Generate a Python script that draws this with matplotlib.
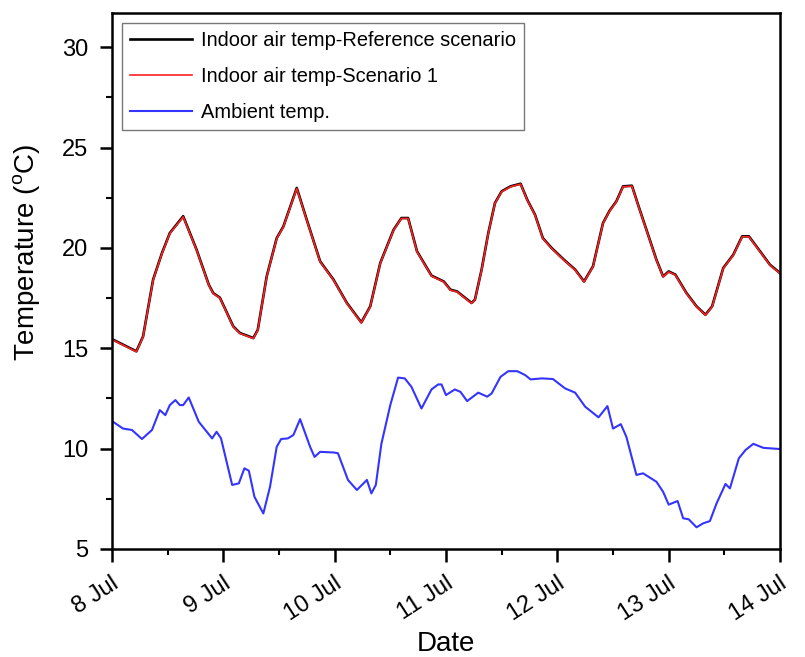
import pandas as pd
import matplotlib
matplotlib.use('Agg')
import matplotlib.pyplot as plt
import matplotlib.dates as mdates
from matplotlib.ticker import MultipleLocator
from matplotlib.transforms import ScaledTranslation

plt.rcParams['font.family'] = ['Liberation Sans', 'DejaVu Sans']
plt.rcParams['mathtext.fontset'] = 'custom'
plt.rcParams['mathtext.rm'] = 'Liberation Sans'
plt.rcParams['mathtext.it'] = 'Liberation Sans'

# time in days after 8 Jul 00:00, temperatures in degC
indoor_days = [0.01, 0.22, 0.28, 0.37, 0.45, 0.52, 0.64, 0.76, 0.87, 0.91, 0.97,
               1.09, 1.15, 1.27, 1.31, 1.39, 1.48, 1.54, 1.66, 1.75, 1.87, 1.99,
               2.11, 2.24, 2.32, 2.41, 2.53, 2.60, 2.66, 2.74, 2.87, 2.98, 3.04,
               3.10, 3.23, 3.26, 3.32, 3.38, 3.44, 3.50, 3.58, 3.67, 3.73, 3.80,
               3.87, 3.95, 4.06, 4.16, 4.24, 4.32, 4.41, 4.47, 4.53, 4.59, 4.67,
               4.73, 4.80, 4.89, 4.95, 5.00, 5.06, 5.16, 5.25, 5.33, 5.39, 5.49,
               5.58, 5.66, 5.72, 5.81, 5.91, 6.00]
indoor_s1 = [15.41, 14.83, 15.57, 18.4, 19.73, 20.72, 21.55, 19.9, 18.15, 17.73, 17.5,
             16.07, 15.74, 15.49, 15.9, 18.56, 20.47, 21.05, 22.96, 21.38, 19.31, 18.4,
             17.24, 16.27, 17.07, 19.23, 20.89, 21.47, 21.47, 19.81, 18.6, 18.31, 17.9,
             17.81, 17.24, 17.40, 18.9, 20.72, 22.22, 22.80, 23.05, 23.18, 22.38, 21.63,
             20.47, 19.97, 19.39, 18.9, 18.31, 19.06, 21.22, 21.84, 22.30, 23.05, 23.08,
             22.05, 20.89, 19.39, 18.56, 18.81, 18.65, 17.73, 17.07, 16.65, 17.07, 18.98,
             19.64, 20.56, 20.56, 19.89, 19.14, 18.73]
indoor_ref = [15.43, 14.85, 15.59, 18.42, 19.75, 20.74, 21.58, 19.92, 18.17, 17.75, 17.52,
              16.09, 15.76, 15.51, 15.92, 18.58, 20.49, 21.07, 22.99, 21.40, 19.33, 18.42,
              17.26, 16.29, 17.09, 19.25, 20.91, 21.49, 21.49, 19.83, 18.62, 18.33, 17.92,
              17.83, 17.26, 17.42, 18.92, 20.74, 22.24, 22.82, 23.07, 23.20, 22.40, 21.65,
              20.49, 19.99, 19.41, 18.92, 18.33, 19.08, 21.24, 21.86, 22.32, 23.07, 23.10,
              22.07, 20.91, 19.41, 18.58, 18.83, 18.67, 17.75, 17.09, 16.67, 17.09, 19.00,
              19.66, 20.58, 20.58, 19.91, 19.16, 18.75]

amb_days = [0.01, 0.10, 0.18, 0.27, 0.36, 0.43, 0.48, 0.52, 0.57, 0.61, 0.64, 0.69,
            0.78, 0.90, 0.94, 0.98, 1.08, 1.14, 1.19, 1.23, 1.28, 1.36, 1.42, 1.48,
            1.52, 1.58, 1.63, 1.69, 1.78, 1.82, 1.87, 1.99, 2.03, 2.12, 2.20, 2.29,
            2.33, 2.37, 2.42, 2.50, 2.57, 2.63, 2.69, 2.78, 2.87, 2.93, 2.96, 3.00,
            3.08, 3.13, 3.19, 3.29, 3.37, 3.41, 3.49, 3.56, 3.64, 3.71, 3.76, 3.86,
            3.96, 4.07, 4.16, 4.25, 4.37, 4.45, 4.50, 4.57, 4.62, 4.71, 4.77, 4.89,
            4.95, 5.00, 5.08, 5.13, 5.18, 5.25, 5.31, 5.37, 5.43, 5.51, 5.55, 5.63,
            5.69, 5.76, 5.85, 6.00]
ambient = [11.34, 11.0, 10.93, 10.48, 10.93, 11.92, 11.67, 12.17, 12.42, 12.17, 12.17, 12.55,
           11.34, 10.51, 10.84, 10.51, 8.19, 8.27, 9.02, 8.9, 7.6, 6.77, 8.1, 10.09,
           10.48, 10.51, 10.68, 11.47, 10.09, 9.59, 9.84, 9.81, 9.77, 8.44, 7.94, 8.44,
           7.77, 8.19, 10.24, 12.17, 13.54, 13.5, 13.08, 12.0, 12.95, 13.2, 13.2, 12.67,
           12.95, 12.83, 12.37, 12.79, 12.59, 12.75, 13.58, 13.86, 13.86, 13.67, 13.45, 13.5,
           13.47, 13.0, 12.79, 12.09, 11.56, 12.12, 11.0, 11.22, 10.59, 8.69, 8.77, 8.35,
           7.85, 7.21, 7.39, 6.53, 6.48, 6.08, 6.28, 6.39, 7.27, 8.24, 8.02, 9.52,
           9.93, 10.24, 10.04, 9.98]

start = pd.Timestamp('2016-07-08')
t_in = start + pd.to_timedelta(indoor_days, unit='D')
t_amb = start + pd.to_timedelta(amb_days, unit='D')

fig = plt.figure(figsize=(8.05, 6.57), dpi=100)
ax = fig.add_axes([0.139, 0.1644, 0.830, 0.8156])

ax.plot(t_in, indoor_ref, color='black', lw=1.9, label='Indoor air temp-Reference scenario')
ax.plot(t_in, indoor_s1, color='#ff2020', lw=1.2, label='Indoor air temp-Scenario 1')
ax.plot(t_amb, ambient, color='#3434ff', lw=1.5, label='Ambient temp.')

ax.set_xlim(start, start + pd.Timedelta(days=6))
ax.set_ylim(5, 31.7)
ax.xaxis.set_major_locator(mdates.DayLocator())
ax.xaxis.set_minor_locator(mdates.HourLocator(byhour=[12]))
ax.xaxis.set_major_formatter(mdates.DateFormatter('%-d %b'))
ax.yaxis.set_major_locator(MultipleLocator(5))
ax.yaxis.set_minor_locator(MultipleLocator(2.5))

ax.tick_params(which='major', direction='out', length=9, width=1.8, labelsize=17)
ax.tick_params(which='minor', direction='out', length=4.5, width=1.5)
ax.tick_params(axis='x', which='major', pad=8)
ax.tick_params(axis='y', which='major', pad=8)
for s in ax.spines.values():
    s.set_linewidth(1.8)
shift = ScaledTranslation(0.11, 0, fig.dpi_scale_trans)
for lab in ax.get_xticklabels():
    lab.set_rotation(33)
    lab.set_ha('right')
    lab.set_va('top')
    lab.set_transform(lab.get_transform() + shift)

ax.set_xlabel('Date', fontsize=20, labelpad=4)
ax.set_ylabel('Temperature ($^{\\rm o}$C)', fontsize=20)
ax.yaxis.set_label_coords(-0.105, 0.554)

leg = ax.legend(loc='upper left', bbox_to_anchor=(0.015, 0.981), borderaxespad=0,
                fontsize=14.4, fancybox=False, edgecolor='#777777', handlelength=3.1,
                handletextpad=0.45, borderpad=0.4, labelspacing=0.85, framealpha=1)
leg.get_frame().set_linewidth(1.0)

plt.savefig('out.png', dpi=100)
